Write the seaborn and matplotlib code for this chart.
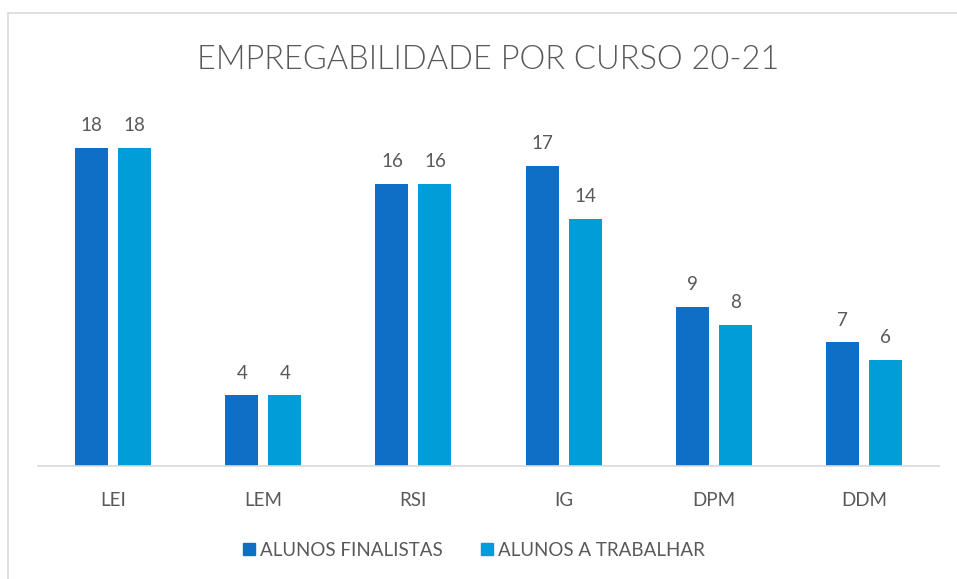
import matplotlib
matplotlib.use("Agg")
import matplotlib.pyplot as plt
import matplotlib.patches as mpatches
import seaborn as sns
import pandas as pd

categories = ["LEI", "LEM", "RSI", "IG", "DPM", "DDM"]
finalistas = [18, 4, 16, 17, 9, 7]
trabalhar = [18, 4, 16, 14, 8, 6]
series_names = ["ALUNOS FINALISTAS", "ALUNOS A TRABALHAR"]
title = "EMPREGABILIDADE POR CURSO 20-21"

colors = ["#0F6FC6", "#009DD9"]
text_color = "#595959"

df = pd.DataFrame({
    "curso": categories * 2,
    "valor": finalistas + trabalhar,
    "serie": [series_names[0]] * len(categories) + [series_names[1]] * len(categories),
})

sns.set_theme(style="white")
plt.rcParams["font.family"] = ["Lato", "DejaVu Sans"]

fig = plt.figure(figsize=(9.57, 5.79), dpi=100)
ax = fig.add_axes([38 / 957, 1 - 466 / 579, (939 - 38) / 957, (466 - 113) / 579])

sns.barplot(data=df, x="curso", y="valor", hue="serie", palette=colors,
            width=0.573, gap=0.233, ax=ax, legend=False, saturation=1,
            edgecolor="none")

ax.set_xlim(-0.5, 5.5)
ax.set_ylim(0, 20)
for c in ax.containers:
    ax.bar_label(c, padding=10, fontsize=13.5, color=text_color)

ax.set_xlabel("")
ax.set_ylabel("")
ax.set_yticks([])
ax.tick_params(axis="x", labelsize=13.5, colors=text_color, length=0, pad=19)
for s in ["top", "right", "left"]:
    ax.spines[s].set_visible(False)
ax.spines["bottom"].set_color("#D9D9D9")
ax.spines["bottom"].set_linewidth(1.2)

fig.text(488 / 957, 1 - 60 / 579, title, ha="center", va="center",
         fontsize=23.5, color=text_color, fontweight=300)

handles = [mpatches.Patch(color=colors[i], label=series_names[i]) for i in range(2)]
leg = fig.legend(handles=handles, loc="center", bbox_to_anchor=(474 / 957, 1 - 550 / 579),
                 ncol=2, frameon=False, fontsize=13.5, handlelength=0.65, handleheight=0.65,
                 handletextpad=0.3, columnspacing=2.0)
for t in leg.get_texts():
    t.set_color(text_color)

border = mpatches.Rectangle((8 / 957, -0.1), 1.2, 1 - 13 / 579 + 0.1, transform=fig.transFigure,
                            fill=False, edgecolor="#D9D9D9", linewidth=1.2)
fig.patches.append(border)

fig.savefig("out.png", dpi=100, facecolor="white")
